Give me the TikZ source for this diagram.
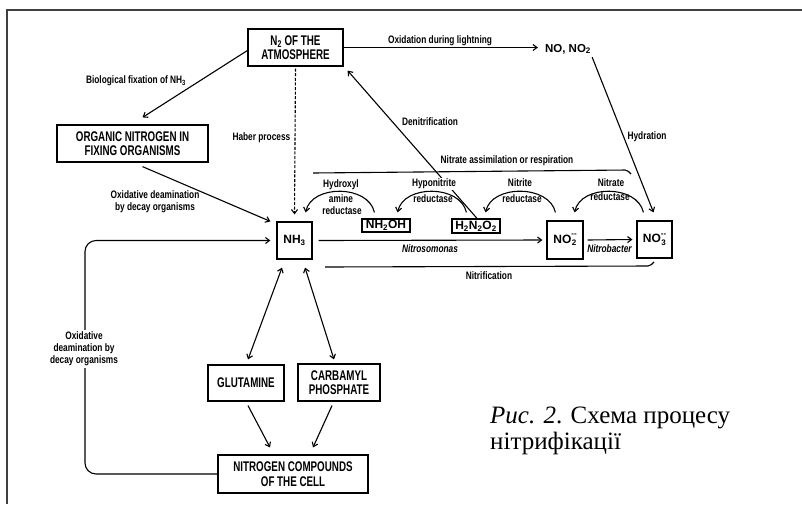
\documentclass[tikz,border=0pt]{standalone}
\usepackage{fontspec}
\setmainfont{Liberation Serif}
\newfontfamily\dg[FakeStretch=0.77]{Liberation Sans}
\newfontfamily\dgb[FakeStretch=0.7]{Liberation Sans}
\newfontfamily\dgw{Liberation Sans}
\newcommand\ionstack[1]{\raisebox{-2.2pt}{\fontsize{8}{8}\selectfont\shortstack{--\\#1}}}
\usetikzlibrary{arrows.meta,calc}
\tikzset{
  box/.style={draw, line width=1.2pt, inner sep=0pt, align=center,
    font=\dgb\bfseries\fontsize{14}{14.5}\selectfont},
  fbox/.style={draw, line width=1.2pt, inner sep=0pt, align=center,
    font=\dgw\bfseries\fontsize{12}{14}\selectfont},
  lbl/.style={inner sep=0.5pt, align=center,
    font=\dg\bfseries\fontsize{10.8}{12}\selectfont},
  ilbl/.style={lbl, font=\dg\bfseries\itshape\fontsize{10.8}{12}\selectfont},
  conn/.style={line width=1.1pt},
  arr/.style={conn, -{Straight Barb[length=4pt,width=6pt]}},
  darr/.style={conn, {Straight Barb[length=4pt,width=6pt]}-{Straight Barb[length=4pt,width=6pt]}},
  brk/.style={line width=1.1pt, rounded corners=2pt},
}
\begin{document}
\begin{tikzpicture}[x=1pt,y=-1pt]
\useasboundingbox (0,0) rectangle (802,504);
% frame
\draw[line width=1.5pt, black!75] (802,10) -- (7,10) -- (7,504);

% nodes
\node[box, minimum width=95pt, minimum height=37pt] (n2) at (295.5,47.5) {N\textsubscript{2} OF THE\\ATMOSPHERE};
\node[box, minimum width=151pt, minimum height=37pt] (org) at (132.5,143.5) {ORGANIC NITROGEN IN\\FIXING ORGANISMS};
\node[fbox, minimum width=35pt, minimum height=37pt] (nh3) at (294.5,240.5) {NH\textsubscript{3}};
\node[fbox, minimum width=48pt, minimum height=13pt] (nh2oh) at (386,225.5) {NH\textsubscript{2}OH};
\node[fbox, minimum width=48pt, minimum height=14pt] (h2n2o2) at (476,226) {H\textsubscript{2}N\textsubscript{2}O\textsubscript{2}};
\node[fbox, minimum width=36pt, minimum height=38pt] (no2) at (565,240) {NO\ionstack{2}};
\node[fbox, minimum width=35pt, minimum height=37pt] (no3) at (654.5,239.5) {NO\ionstack{3}};
\node[box, minimum width=76pt, minimum height=36pt] (glu) at (246,383) {GLUTAMINE};
\node[box, minimum width=82pt, minimum height=37pt] (carb) at (339,382.5) {CARBAMYL\\PHOSPHATE};
\node[box, minimum width=150pt, minimum height=38pt] (ncc) at (293,474) {NITROGEN COMPOUNDS\\OF THE CELL};
\node[inner sep=1pt, font=\dgw\bfseries\fontsize{11.5}{13}\selectfont] (noxt) at (568,49) {NO, NO\textsubscript{2}};

% connectors
\draw[arr] (n2.east) -- ($(n2.east -| noxt.west)+(-6,0)$);
\draw[arr] ($(n2.west)+(0,3)$) -- ($(org.north)+(10,-7)$);
\draw[arr, dash pattern=on 3pt off 1.6pt] ($(n2.south)+(0,2)$) -- ($(nh3.north)+(0,-7)$);
\draw[arr] ($(org.south)+(10,4)$) -- ($(nh3.north west)+(-6,0)$);
\draw[arr, rounded corners=11pt] (ncc.west) -- (85,474) -- (85,240.5) -- ($(nh3.west)+(-6,0)$);
\draw[arr] ($(nh3.east)+(6,0)$) -- ($(no2.west)+(-4,0)$);
\draw[arr] ($(no2.east)+(4,0)$) -- ($(no3.west)+(-4,0)$);
\draw[arr] ($(nh2oh.north west)+(13,-6)$) .. controls +(-6,-28) and +(6,-28) .. ($(nh3.north east)+(-7,-9)$);
\draw[arr] ($(h2n2o2.north west)+(15,-6)$) .. controls +(-6,-28) and +(6,-28) .. ($(nh2oh.north east)+(-13,-6)$);
\draw[arr] ($(no2.north west)+(9,-8)$) .. controls +(-6,-28) and +(6,-28) .. ($(h2n2o2.north east)+(-15,-6)$);
\draw[arr] ($(no3.north west)+(7,-8)$) .. controls +(-6,-28) and +(6,-28) .. ($(no2.north east)+(-9,-8)$);
\draw[arr] ($(h2n2o2.north)+(1,0)$) -- ($(n2.south east)+(4,4)$);
\draw[arr] ($(noxt.south east)+(0,2)$) -- ($(no3.north)+(-1,-8)$);
\draw[darr] ($(nh3.south)+(-12.5,8)$) -- ($(glu.north)+(2,-5)$);
\draw[darr] ($(nh3.south)+(10.5,8)$) -- ($(carb.north)+(-5,-4)$);
\draw[arr] ($(glu.south)+(2,4)$) -- ($(ncc.north)+(-23,-7)$);
\draw[arr] ($(carb.south)+(-7,4)$) -- ($(ncc.north)+(20,-7)$);

% brackets
\draw[brk] (313,173) -- (627,170) -- (631,174);
\draw[brk] (325,267) -- (650,266) -- (654,262);

% labels
\node[lbl] (l1) at (440,41) {Oxidation during lightning};
\node[lbl] (l2) at (136,81) {Biological fixation of NH\textsubscript{3}};
\node[lbl, anchor=east] (l3) at (291,138) {Haber process};
\node[lbl] (l4) at (430,122) {Denitrification};
\node[lbl] (l5) at (647,137) {Hydration};
\node[lbl] (l6) at (507,161) {Nitrate assimilation or respiration};
\node[lbl] (l7) at (155,202) {Oxidative deamination\\by decay organisms};
\node[lbl] (l8a) at (341,185) {Hydroxyl};
\node[lbl] (l8b) at (341,199) {amine};
\node[lbl] (l8c) at (342,211) {reductase};
\node[lbl, fill=white] (l9a) at (434,184) {Hyponitrite};
\node[lbl] (l9b) at (433,199) {reductase};
\node[lbl] (l10a) at (520,183) {Nitrite};
\node[lbl] (l10b) at (522,199) {reductase};
\node[lbl] (l11a) at (611,183) {Nitrate};
\node[lbl] (l11b) at (610,197) {reductase};
\node[ilbl] (l12) at (430,249) {Nitrosomonas};
\node[ilbl] (l13) at (609.5,249) {Nitrobacter};
\node[lbl] (l14) at (489,276) {Nitrification};
\node[lbl, fill=white, inner sep=2pt] (l15) at (84,349) {Oxidative\\deamination by\\decay organisms};

% caption
\node[anchor=north west, inner sep=0pt, align=left, font=\fontsize{25}{26}\selectfont] (cap) at (490,407) {\textit{Рис. 2}. Схема процесу\\нітрифікації};
\end{tikzpicture}
\end{document}
